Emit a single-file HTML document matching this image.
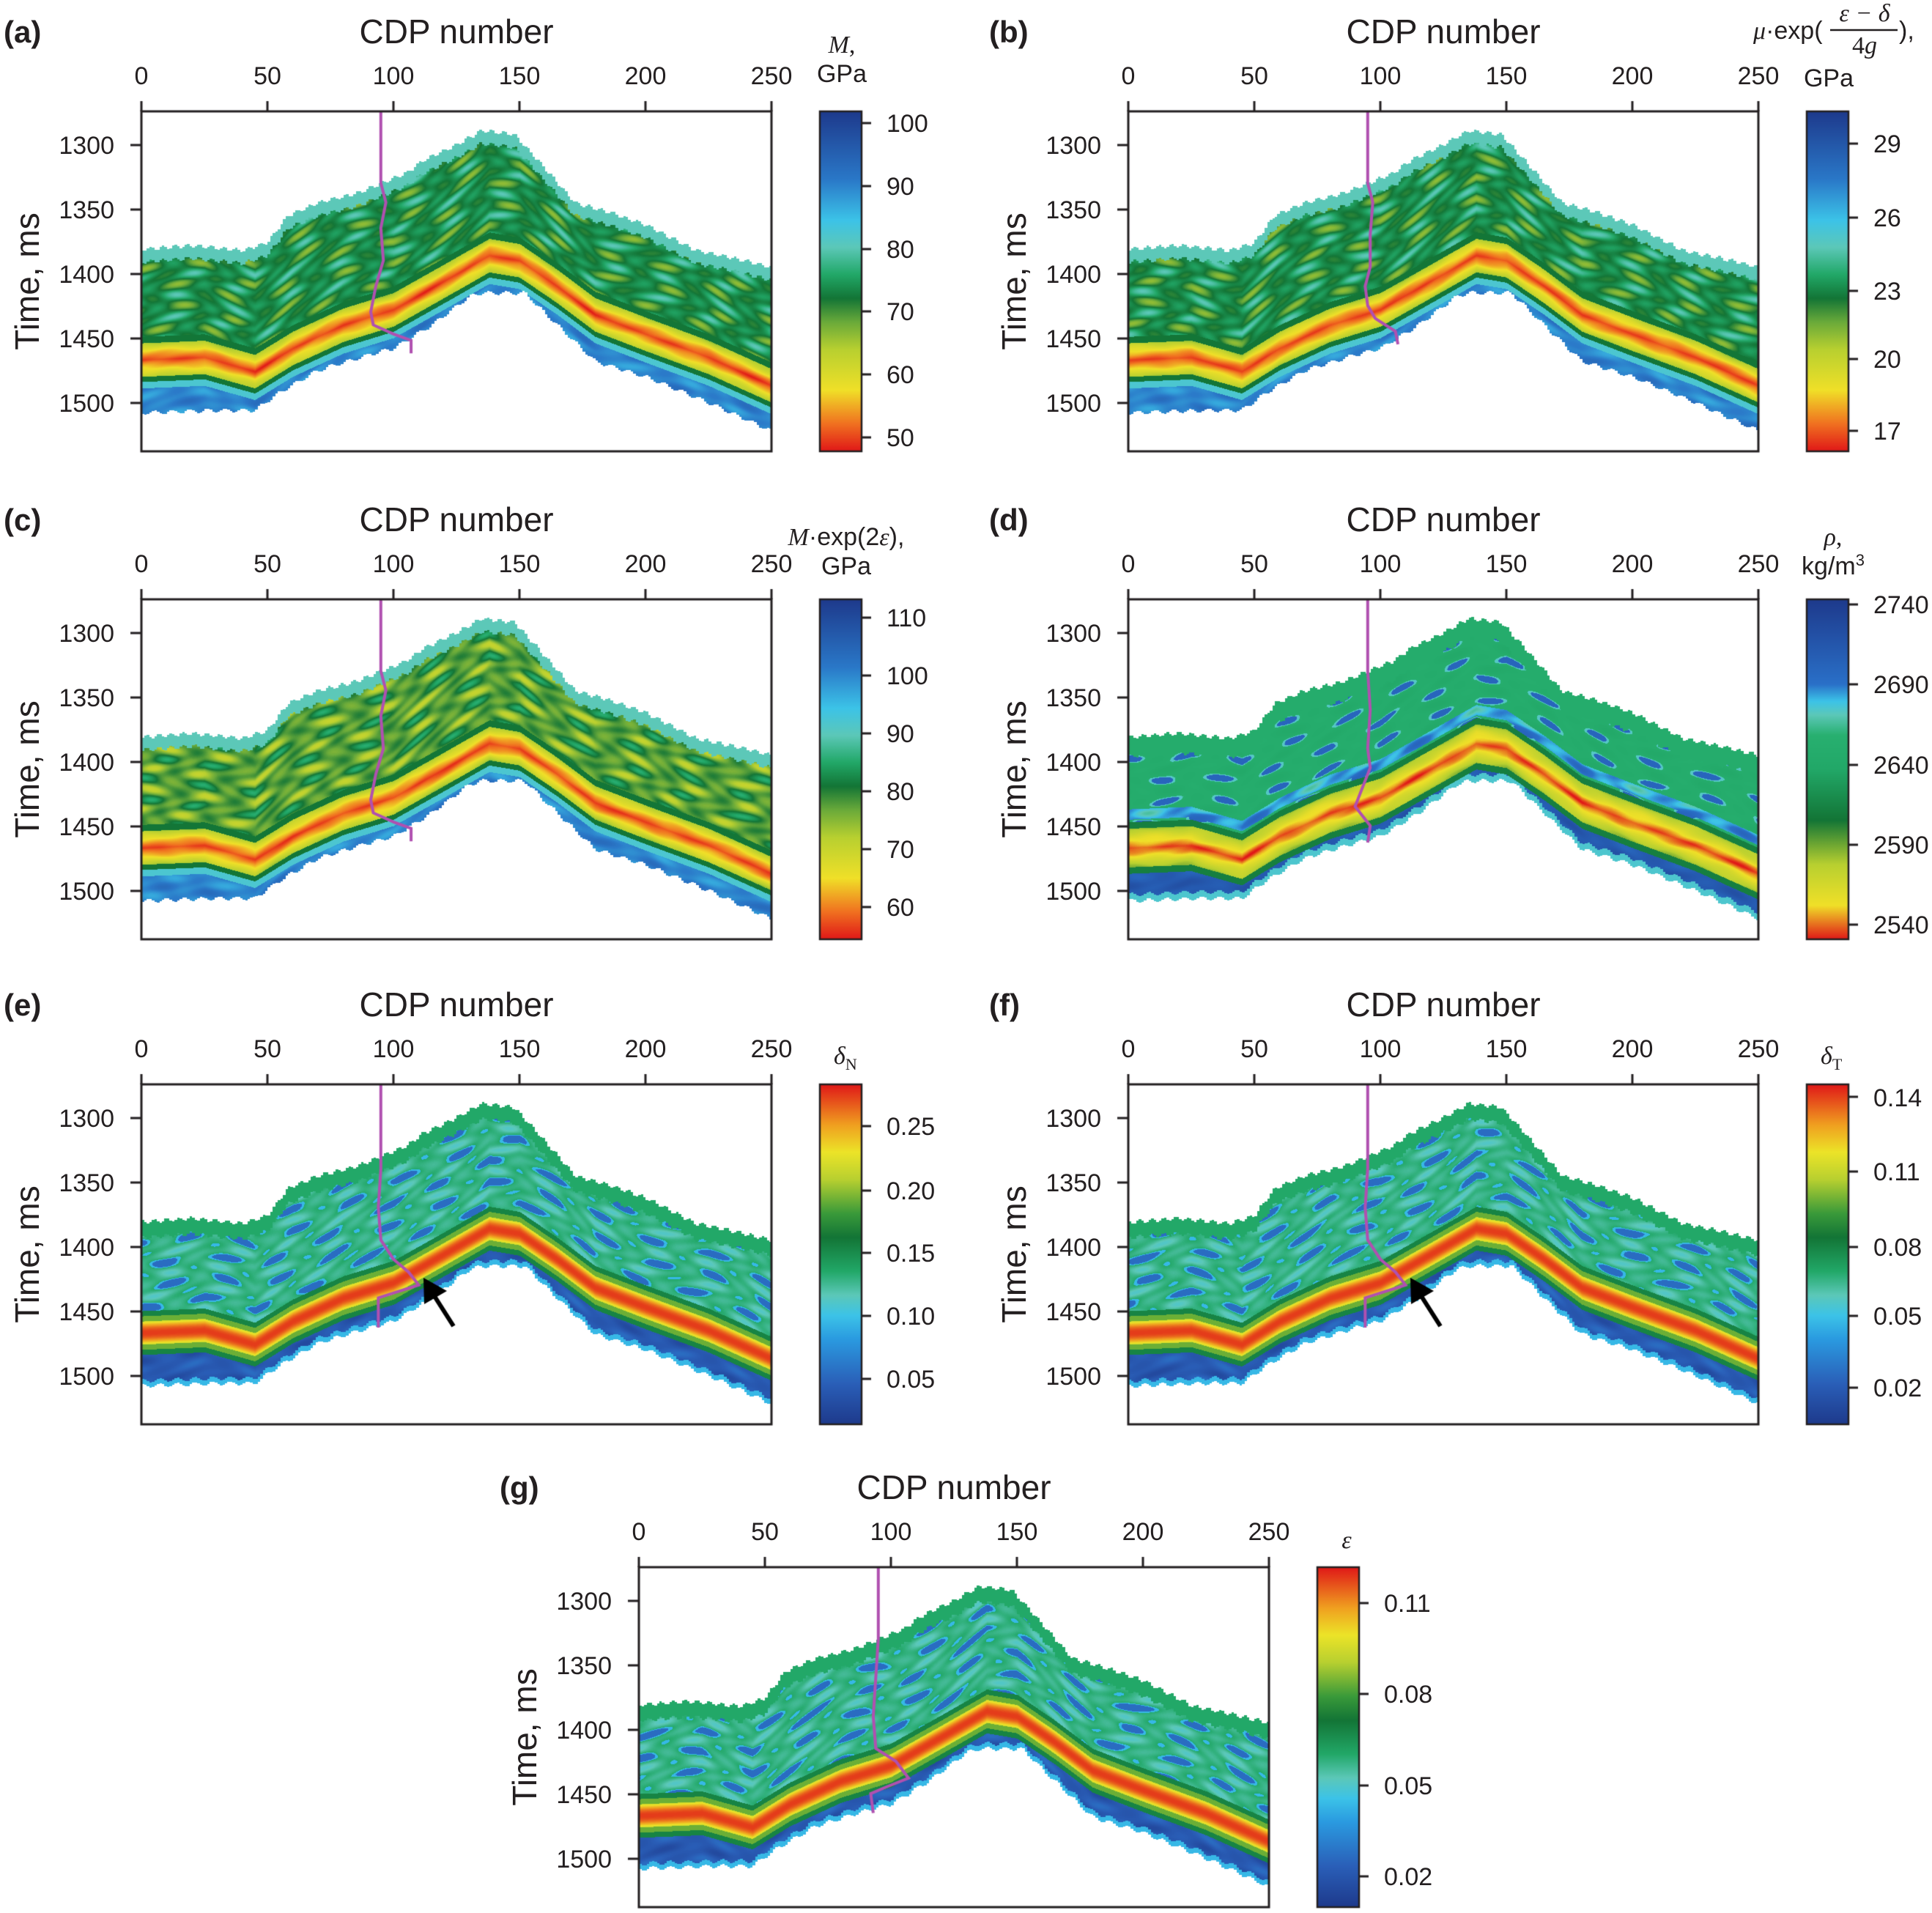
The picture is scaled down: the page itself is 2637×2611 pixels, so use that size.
<!DOCTYPE html>
<html><head><meta charset="utf-8">
<style>
html,body{margin:0;padding:0;background:#fff;}
#wrap{position:relative;width:2637px;height:2611px;overflow:hidden;}
canvas{position:absolute;left:0;top:0;}
svg{position:absolute;left:0;top:0;}
text{font-family:"Liberation Sans",Arial,sans-serif;fill:#231f20;}
.t{font-size:34px;}
.ti{font-size:46px;}
.lb{font-size:42px;font-weight:bold;}
.cb{font-size:34px;}
.it{font-family:"Liberation Serif",serif;font-style:italic;}
</style></head><body>
<div id="wrap">
<canvas id="cv" width="2637" height="2611"></canvas>
<svg width="2637" height="2611" viewBox="0 0 2637 2611">
<defs>
<g id="ax">
<text class="ti" x="430" y="-93" text-anchor="middle">CDP number</text>
<g class="t" text-anchor="middle">
<text x="0" y="-37">0</text><text x="172" y="-37">50</text><text x="344" y="-37">100</text><text x="516" y="-37">150</text><text x="688" y="-37">200</text><text x="860" y="-37">250</text>
</g>
<g class="t" text-anchor="end">
<text x="-37" y="58">1300</text><text x="-37" y="146">1350</text><text x="-37" y="234">1400</text><text x="-37" y="322">1450</text><text x="-37" y="410">1500</text>
</g>
<text class="ti" transform="translate(-140,232) rotate(-90)" text-anchor="middle">Time, ms</text>
</g>
</defs>

<g transform="translate(193,152)">
<use href="#ax"/>
<text class="lb" x="-188" y="-94">(a)</text>
<text class="cb it" x="956" y="-80" text-anchor="middle">M<tspan font-style="normal">,</tspan></text>
<text class="cb" x="956" y="-40" text-anchor="middle">GPa</text>
<g class="cb"><text x="1017" y="28">100</text><text x="1017" y="114">90</text><text x="1017" y="200">80</text><text x="1017" y="285">70</text><text x="1017" y="371">60</text><text x="1017" y="457">50</text></g>
</g>
<g transform="translate(1540,152)">
<use href="#ax"/>
<text class="lb" x="-190" y="-94">(b)</text>
<text class="cb" x="853" y="-99"><tspan class="it">μ</tspan>·exp(</text>
<text class="cb it" x="1005" y="-123" text-anchor="middle">ε − δ</text>
<line x1="958" y1="-111" x2="1050" y2="-111" stroke="#231f20" stroke-width="2.5"/>
<text class="cb it" x="1005" y="-79" text-anchor="middle"><tspan font-style="normal">4</tspan>g</text>
<text class="cb" x="1052" y="-99">),</text>
<text class="cb" x="956" y="-34" text-anchor="middle">GPa</text>
<g class="cb"><text x="1017" y="56">29</text><text x="1017" y="157">26</text><text x="1017" y="257">23</text><text x="1017" y="350">20</text><text x="1017" y="448">17</text></g>
</g>
<g transform="translate(193,818)">
<use href="#ax"/>
<text class="lb" x="-188" y="-94">(c)</text>
<text class="cb" x="962" y="-74" text-anchor="middle"><tspan class="it">M</tspan>·exp(2<tspan class="it">ε</tspan>),</text>
<text class="cb" x="962" y="-34" text-anchor="middle">GPa</text>
<g class="cb"><text x="1017" y="37">110</text><text x="1017" y="116">100</text><text x="1017" y="195">90</text><text x="1017" y="274">80</text><text x="1017" y="353">70</text><text x="1017" y="432">60</text></g>
</g>
<g transform="translate(1540,818)">
<use href="#ax"/>
<text class="lb" x="-190" y="-94">(d)</text>
<text class="cb it" x="962" y="-74" text-anchor="middle">ρ<tspan font-style="normal">,</tspan></text>
<text class="cb" x="962" y="-34" text-anchor="middle">kg/m<tspan font-size="22" dy="-12">3</tspan></text>
<g class="cb"><text x="1017" y="19">2740</text><text x="1017" y="128">2690</text><text x="1017" y="238">2640</text><text x="1017" y="347">2590</text><text x="1017" y="456">2540</text></g>
</g>
<g transform="translate(193,1480)">
<use href="#ax"/>
<text class="lb" x="-188" y="-94">(e)</text>
<text class="cb it" x="945" y="-28">δ<tspan font-style="normal" font-size="22" dy="8">N</tspan></text>
<g class="cb"><text x="1017" y="69">0.25</text><text x="1017" y="157">0.20</text><text x="1017" y="242">0.15</text><text x="1017" y="328">0.10</text><text x="1017" y="414">0.05</text></g>
</g>
<g transform="translate(1540,1480)">
<use href="#ax"/>
<text class="lb" x="-190" y="-94">(f)</text>
<text class="cb it" x="945" y="-28">δ<tspan font-style="normal" font-size="22" dy="8">T</tspan></text>
<g class="cb"><text x="1017" y="30">0.14</text><text x="1017" y="131">0.11</text><text x="1017" y="234">0.08</text><text x="1017" y="328">0.05</text><text x="1017" y="426">0.02</text></g>
</g>
<g transform="translate(872,2139)">
<use href="#ax"/>
<text class="lb" x="-190" y="-94">(g)</text>
<text class="cb it" x="966" y="-26" text-anchor="middle">ε</text>
<g class="cb"><text x="1017" y="61">0.11</text><text x="1017" y="185">0.08</text><text x="1017" y="310">0.05</text><text x="1017" y="434">0.02</text></g>
</g>
</svg>
</div>
<script>
(function(){
const cv=document.getElementById('cv');const ctx=cv.getContext('2d');
const W=860,H=464,PX=3.44,PY=1.76,T0=1274.4;
function ip(p,x){if(x<=p[0][0])return p[0][1];for(let i=1;i<p.length;i++){if(x<=p[i][0]){const a=p[i-1],b=p[i];return a[1]+(b[1]-a[1])*(x-a[0])/(b[0]-a[0]);}}return p[p.length-1][1];}
const TOP=[[0,1381],[20,1378],[40,1382],[50,1376],[58,1355],[70,1345],[85,1338],[95,1330],[105,1322],[112,1312],[125,1300],[135,1289],[148,1292],[160,1318],[172,1345],[185,1352],[200,1362],[220,1382],[235,1388],[250,1395]];
const BOT=[[0,1508],[30,1506],[45,1506],[55,1492],[70,1475],[90,1463],[100,1458],[115,1440],[130,1418],[135,1415],[152,1415],[165,1440],[180,1468],[200,1480],[225,1500],[250,1522]];
const REF=[[0,1467],[25,1465],[45,1476],[60,1458],[80,1440],[100,1428],[120,1406],[138,1386],[150,1390],[165,1410],[180,1432],[200,1447],[225,1465],[250,1487]];
function hx(h){return [parseInt(h.substr(1,2),16),parseInt(h.substr(3,2),16),parseInt(h.substr(5,2),16)];}
function lut(st){const L=[];for(let i=0;i<256;i++){const v=i/255;let k=1;while(k<st.length-1&&st[k][0]<v)k++;const a=st[k-1],b=st[k];const f=Math.max(0,Math.min(1,(v-a[0])/(b[0]-a[0])));const ca=hx(a[1]),cb=hx(b[1]);L.push([ca[0]+(cb[0]-ca[0])*f,ca[1]+(cb[1]-ca[1])*f,ca[2]+(cb[2]-ca[2])*f]);}return L;}
const SA=[[0,'#e01818'],[0.08,'#f07020'],[0.18,'#f0e028'],[0.3,'#b8d030'],[0.38,'#6aaa3a'],[0.45,'#137536'],[0.52,'#22a868'],[0.6,'#5cc8b8'],[0.68,'#3cc3e8'],[0.8,'#2a78c8'],[1,'#1e3a8c']];
const SD=[[0,'#e01818'],[0.1,'#f0e028'],[0.22,'#b8d030'],[0.35,'#137536'],[0.5,'#22a868'],[0.6,'#28b070'],[0.66,'#5cc8b8'],[0.7,'#3cc3e8'],[0.75,'#2a70c8'],[1,'#1e3a8c']];
const SE=[[0,'#1e3a8c'],[0.12,'#2a5fb8'],[0.25,'#2a9ae0'],[0.32,'#3cc3e8'],[0.38,'#5cc8b8'],[0.45,'#22a868'],[0.55,'#137536'],[0.62,'#3a9a3a'],[0.72,'#b8d030'],[0.8,'#ece428'],[0.88,'#f0a020'],[1,'#e01818']];
const LA=lut(SA),LD=lut(SD),LE=lut(SE);
function nz(px,d,s){return Math.sin(d*0.38+s+1.6*Math.sin(px*0.028+s))*(0.35+0.65*Math.sin(px*0.085+s*1.7+d*0.06+Math.sin(d*0.2)));}
function sm(a,b,x){const t=Math.max(0,Math.min(1,(x-a)/(b-a)));return t*t*(3-2*t);}
function vA(d,dt,db,n,base){
 const a=Math.abs(d);
 if(a<13)return 0.03+0.28*(a/13)+0.03*n;
 if(d>=13){if(d<17)return 0.45;if(d<22)return 0.64;return 0.78+0.06*n;}
 if(a<18)return 0.45;
 if(dt<10)return 0.6;
 return base+0.13*n;}
function vD(d,dt,db,n){
 const a=Math.abs(d);
 if(a<15)return 0.02+0.22*(a/15)+0.03*n;
 if(a<20)return 0.38;
 if(d>0){if(db<5)return 0.68;return 0.85+0.05*n;}
 if(d>-30&&d<-22)return 0.72+0.08*n;
 if(dt<15)return 0.55;
 if(n>0.55)return 0.8;if(n>0.35)return 0.67;return 0.55+0.04*n;}
function vE(d,dt,db,n,cdp,yel){
 const a=Math.abs(d);
 if(a<9)return 0.97-0.22*Math.pow(a/9,2);
 if(a<13)return 0.66;
 if(a<17)return 0.52;
 if(d>0){if(db<4)return 0.3;return 0.1+0.05*n;}
 if(yel){const w=sm(78,92,cdp)*(1-sm(115,128,cdp))*(1-sm(-34,-24,-d));if(w>0.01)return (0.45+0.06*n)*(1-w)+(0.72+0.05*n)*w;}
 if(dt<12)return 0.45;
 if(n>0.45)return 0.15;if(n>0.25)return 0.3;return 0.43+0.07*n;}
const img=ctx.createImageData(W,H);
function panel(L,T,type,seed,logp,arrow){
 const D=img.data;
 for(let i=0;i<D.length;i++)D[i]=255;
 for(let px=0;px<W;px++){
  const cdp=px/PX, cq=Math.floor(cdp)+0.5;
  const tp=ip(TOP,cq)+1.5*Math.sin(cq*1.3+seed), bt=ip(BOT,cq)+1.5*Math.sin(cq*0.9+seed), rf=ip(REF,cdp);
  for(let py=0;py<H;py++){
   const t=T0+py/PY; if(t<tp||t>bt)continue;
   const d=t-rf, n=nz(px,d,seed); let v,Lt;
   if(type==='a'){v=vA(d,t-tp,bt-t,n,0.47);Lt=LA;}
   else if(type==='c'){v=vA(d,t-tp,bt-t,n,0.4);Lt=LA;}
   else if(type==='d'){v=vD(d,t-tp,bt-t,n);Lt=LD;}
   else if(type==='g'){v=vE(d,t-tp,bt-t,n,cdp,false);Lt=LE;}
   else {v=vE(d,t-tp,bt-t,n,cdp,true);Lt=LE;}
   const c=Lt[Math.max(0,Math.min(255,Math.round(v*255)))];
   const k=(py*W+px)*4;D[k]=c[0];D[k+1]=c[1];D[k+2]=c[2];D[k+3]=255;
  }}
 ctx.putImageData(img,L,T);
 ctx.strokeStyle='#b050b0';ctx.lineWidth=4;ctx.beginPath();
 logp.forEach((p,i)=>{const x=L+p[0]*PX,y=T+(p[1]-T0)*PY;if(i)ctx.lineTo(x,y);else ctx.moveTo(x,y);});ctx.stroke();
 if(arrow){ctx.strokeStyle='#000';ctx.lineWidth=6;ctx.beginPath();ctx.moveTo(L+426,T+330);ctx.lineTo(L+398,T+286);ctx.stroke();
  ctx.fillStyle='#000';ctx.beginPath();ctx.moveTo(L+385,T+264);ctx.lineTo(L+417,T+282);ctx.lineTo(L+386,T+300);ctx.closePath();ctx.fill();}
 ctx.strokeStyle='#231f20';ctx.lineWidth=3;ctx.strokeRect(L,T,W,H);
 ctx.beginPath();for(let k=0;k<=5;k++){const x=L+k*172;ctx.moveTo(x,T);ctx.lineTo(x,T-14);}
 for(let k=0;k<5;k++){const y=T+46+k*88;ctx.moveTo(L,y);ctx.lineTo(L-15,y);}ctx.stroke();
 const cx=L+926,cw=57;const g=ctx.createLinearGradient(0,T+H,0,T);
 const st=type==='a'||type==='c'?SA:(type==='d'?SD:SE);st.forEach(s=>g.addColorStop(s[0],s[1]));
 ctx.fillStyle=g;ctx.fillRect(cx,T,cw,H);ctx.lineWidth=2.5;ctx.strokeRect(cx,T,cw,H);
}
const lg1=[[95,1274],[95,1330],[97,1345],[95,1365],[96,1390],[93,1410],[91,1430],[92,1440],[100,1447],[107,1452],[107,1462]];
const lgb=[[95,1274],[95,1330],[97,1345],[96,1370],[96,1395],[94,1410],[95,1425],[98,1435],[106,1445],[107,1455]];
const lgd=[[95,1274],[95,1330],[96,1360],[95,1390],[96,1405],[92,1425],[90,1435],[94,1445],[96,1450],[95,1463]];
const lge=[[95,1274],[95,1340],[94,1370],[95,1395],[100,1410],[106,1420],[110,1430],[102,1435],[94,1440],[94,1463]];
const lgg=[[95,1274],[95,1330],[94,1360],[93,1390],[94,1415],[102,1425],[107,1438],[98,1445],[92,1450],[93,1465]];
const cbT=[[193,152,[16,102,188,273,359,445]],[1540,152,[44,145,245,338,436]],[193,818,[25,104,183,262,341,420]],[1540,818,[7,116,226,335,444]],[193,1480,[57,145,230,316,402]],[1540,1480,[17,119,222,316,414]],[872,2139,[49,173,298,422]]];
panel(193,152,'a',0,lg1,false);
panel(1540,152,'a',1.3,lgb,false);
panel(193,818,'c',2.1,lg1,false);
panel(1540,818,'d',3.7,lgd,false);
panel(193,1480,'e',4.4,lge,true);
panel(1540,1480,'e',5.2,lge,true);
panel(872,2139,'g',6.1,lgg,false);
ctx.strokeStyle='#231f20';ctx.lineWidth=3;ctx.beginPath();
cbT.forEach(c=>{c[2].forEach(y=>{ctx.moveTo(c[0]+983,c[1]+y);ctx.lineTo(c[0]+996,c[1]+y);});});ctx.stroke();
})();
</script>
</body></html>
